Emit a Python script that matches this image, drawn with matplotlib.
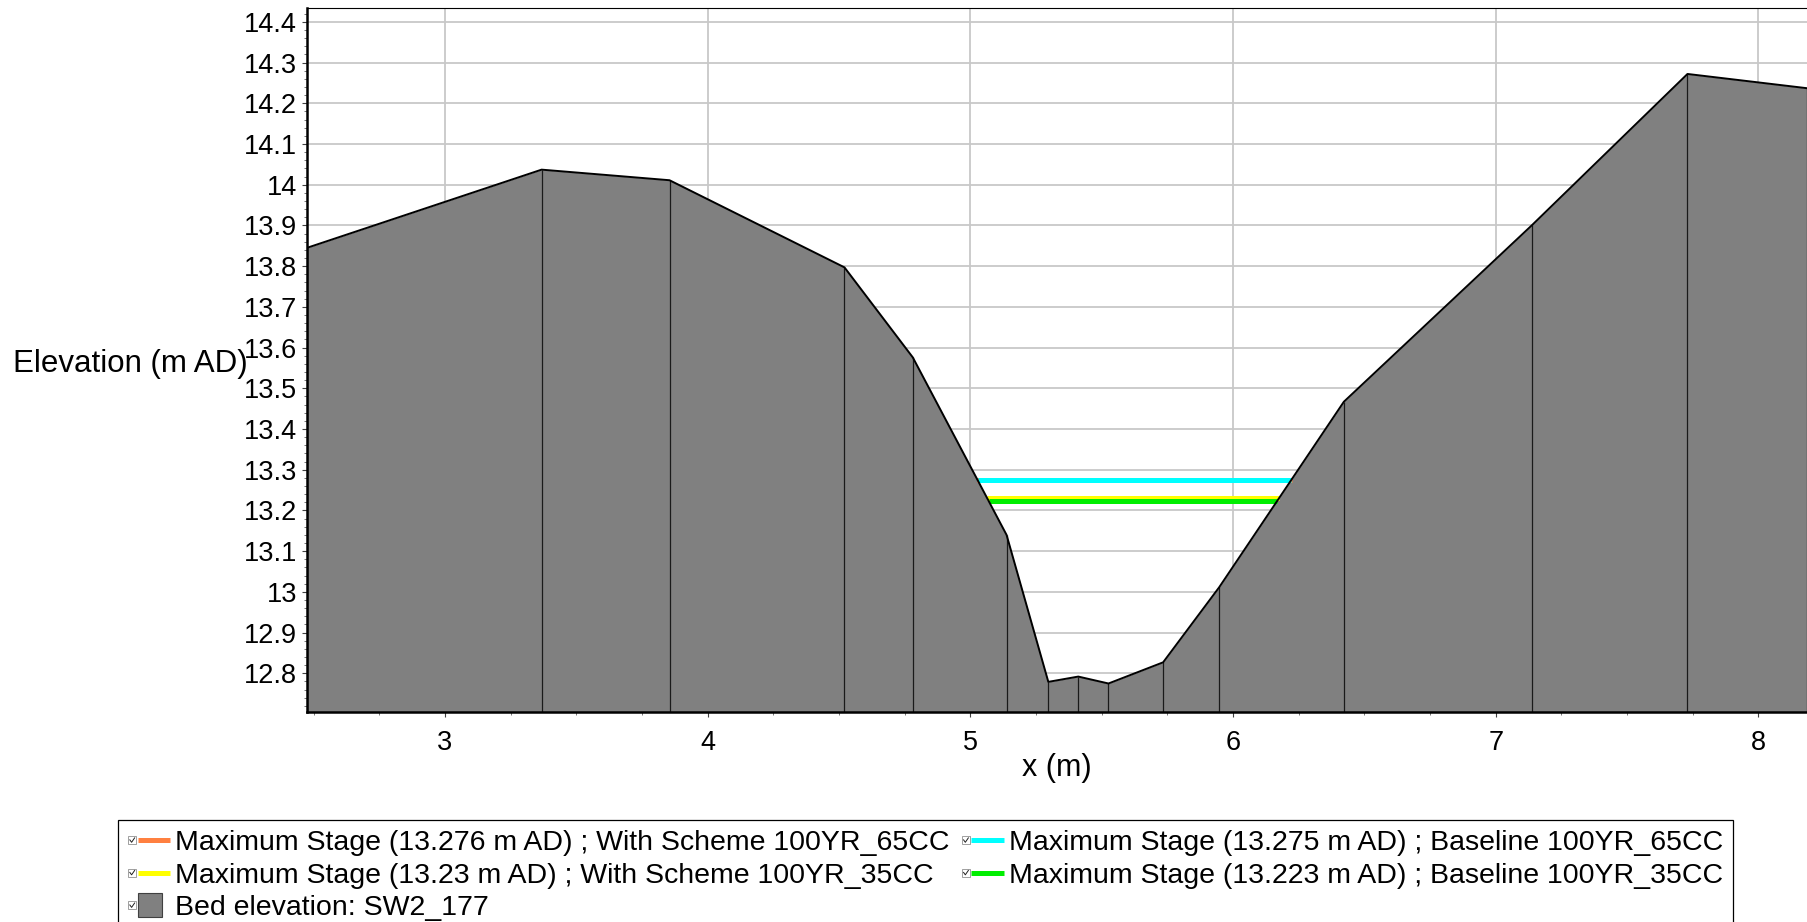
import matplotlib
matplotlib.use("Agg")
import matplotlib.pyplot as plt
import numpy as np
from matplotlib.legend_handler import HandlerLine2D, HandlerPatch
from matplotlib.patches import Rectangle, Patch
from matplotlib.lines import Line2D
from matplotlib.transforms import Affine2D
from matplotlib.ticker import MultipleLocator

plt.rcParams['font.family'] = ['Liberation Sans', 'DejaVu Sans']

# bed profile SW2_177, only the part inside the view
bed_x = [2.475, 3.368, 3.855, 4.521, 4.781, 5.138, 5.297, 5.411, 5.526,
         5.734, 5.947, 6.422, 7.137, 7.730, 8.185]
bed_z = [13.845, 14.037, 14.011, 13.797, 13.576, 13.140, 12.779, 12.792,
         12.775, 12.827, 13.011, 13.467, 13.900, 14.272, 14.237]

# maximum stages
stage_runs = ["With Scheme 100YR_65CC", "With Scheme 100YR_35CC",
              "Baseline 100YR_65CC", "Baseline 100YR_35CC"]
stage_levels = [13.276, 13.23, 13.275, 13.223]
stage_colors = ["#ff8040", "#ffff00", "#00ffff", "#00ee00"]

xticks = [3, 4, 5, 6, 7, 8]
yticks = [12.8, 12.9, 13.0, 13.1, 13.2, 13.3, 13.4, 13.5, 13.6, 13.7,
          13.8, 13.9, 14.0, 14.1, 14.2, 14.3, 14.4]
ytick_labels = ["12.8", "12.9", "13", "13.1", "13.2", "13.3", "13.4", "13.5",
                "13.6", "13.7", "13.8", "13.9", "14", "14.1", "14.2", "14.3",
                "14.4"]

xmin, xmax = 2.475, 8.185
ymin, ymax = 12.705, 14.434


def wet_extent(level):
    # where the water level meets the bed on either bank
    x = np.asarray(bed_x)
    z = np.asarray(bed_z) - level
    xs = []
    for i in range(len(x) - 1):
        if z[i] * z[i + 1] < 0:
            xs.append(x[i] - z[i] * (x[i + 1] - x[i]) / (z[i + 1] - z[i]))
    return xs[0], xs[-1]


class CheckMixin:
    # little ticked checkbox in front of each legend handle
    def create_artists(self, legend, orig_handle, xdescent, ydescent,
                       width, height, fontsize, trans):
        box = 0.28 * fontsize
        shift = box + 0.05 * fontsize
        arts = super().create_artists(legend, orig_handle, xdescent, ydescent,
                                      width - shift, height, fontsize, trans)
        for a in arts:
            a.set_transform(Affine2D().translate(shift, 0) + trans)
        x0 = -xdescent
        y0 = -ydescent + (height - box) / 2
        r = Rectangle((x0, y0), box, box, fc="white", ec="#909090", lw=0.6,
                      transform=trans)
        tick = Line2D([x0 + 0.2 * box, x0 + 0.42 * box, x0 + 0.8 * box],
                      [y0 + 0.55 * box, y0 + 0.25 * box, y0 + 0.8 * box],
                      color="#202020", lw=0.7, transform=trans)
        return [r, tick] + arts


class CheckedLine(CheckMixin, HandlerLine2D):
    pass


class CheckedPatch(CheckMixin, HandlerPatch):
    pass


def square(legend, orig_handle, xdescent, ydescent, width, height, fontsize):
    s = 0.84 * fontsize
    return Rectangle((-xdescent, -ydescent + height / 2 - s / 2), s, s)


fig = plt.figure(figsize=(18.07, 9.22), dpi=100)
ax = fig.add_axes([307 / 1807, 1 - 712 / 922, 1 - 307 / 1807, 704 / 922])

ax.fill_between(bed_x, bed_z, ymin, color="#808080", lw=0, zorder=2)
ax.vlines(bed_x, ymin, bed_z, color="#1a1a1a", lw=0.9, zorder=2.5)
ax.plot(bed_x, bed_z, color="black", lw=1.4, zorder=4)

lines = []
for run, lvl, col in zip(stage_runs, stage_levels, stage_colors):
    x0, x1 = wet_extent(lvl)
    [ln] = ax.plot([x0, x1], [lvl, lvl], color=col, lw=3.6,
                   solid_capstyle="butt", zorder=3,
                   label="Maximum Stage (%g m AD) ; %s" % (lvl, run))
    lines.append(ln)

bed_handle = Patch(facecolor="#808080", edgecolor="#404040", lw=0.8,
                   label="Bed elevation: SW2_177")

ax.set_xlim(xmin, xmax)
ax.set_ylim(ymin, ymax)
ax.set_xticks(xticks)
ax.set_yticks(yticks, labels=ytick_labels)
ax.xaxis.set_minor_locator(MultipleLocator(0.25))
ax.yaxis.set_minor_locator(MultipleLocator(0.02))
ax.tick_params(which="major", length=3.6, width=0.8, color="#404040",
               labelsize=19.5)
ax.tick_params(axis="y", which="major", pad=3.6)
ax.tick_params(axis="x", which="major", pad=9)
ax.tick_params(which="minor", length=2, width=0.6, color="#606060")

ax.grid(True, which="major", color="#c8c8c8", lw=1.3)
ax.set_axisbelow(True)

ax.spines["left"].set_linewidth(1.8)
ax.spines["bottom"].set_linewidth(1.8)
ax.spines["top"].set_linewidth(0.8)
ax.spines["right"].set_visible(False)

ax.set_ylabel("Elevation (m AD)", rotation=0, fontsize=22.5, ha="left",
              va="center")
ax.yaxis.set_label_coords(-0.196, 0.495)
ax.set_xlabel("x (m)", fontsize=22, va="center")
ax.xaxis.set_label_coords(0.5, -0.0795)

handles = [lines[0], lines[1], bed_handle, lines[2], lines[3]]
leg = ax.legend(handles=handles, ncol=2, loc="upper left",
                bbox_to_anchor=(118 / 1807, 1 - 820 / 922),
                bbox_transform=fig.transFigure, borderaxespad=0,
                fontsize=20.5, handlelength=1.47, handletextpad=0.18,
                columnspacing=0.43, labelspacing=0.23, borderpad=0.36,
                fancybox=False, framealpha=1,
                handler_map={Line2D: CheckedLine(),
                             Patch: CheckedPatch(patch_func=square)})
leg.get_frame().set_edgecolor("black")
leg.get_frame().set_linewidth(0.9)

fig.savefig("out.png", dpi=100)
